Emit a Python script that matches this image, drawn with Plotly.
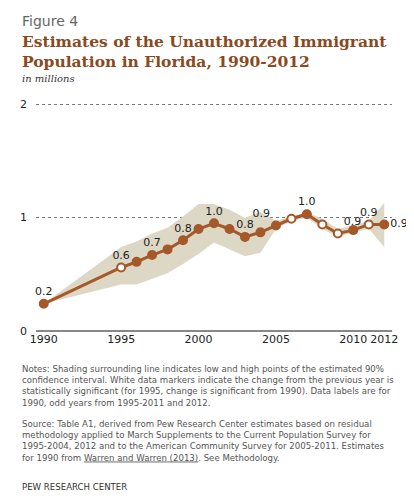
import plotly.graph_objects as go

# 1990 then 1995-2012 (no estimates for 1991-1994)
years = [1990] + list(range(1995, 2013))
estimate = [0.24, 0.56, 0.61, 0.67, 0.72, 0.80, 0.90, 0.95, 0.90, 0.83, 0.87,
            0.93, 0.99, 1.03, 0.94, 0.86, 0.89, 0.94, 0.94]
low = [0.24, 0.41, 0.41, 0.46, 0.51, 0.59, 0.68, 0.78, 0.72, 0.66, 0.69,
       0.90, 0.97, 1.00, 0.90, 0.83, 0.87, 0.90, 0.74]
high = [0.24, 0.74, 0.79, 0.86, 0.91, 1.01, 1.12, 1.12, 1.07, 1.00, 1.05,
        0.97, 1.01, 1.05, 0.99, 0.90, 0.93, 0.97, 1.13]
significant = [1995, 2006, 2008, 2009, 2011]
labels = {1990: "0.2", 1995: "0.6", 1997: "0.7", 1999: "0.8", 2001: "1.0", 2003: "0.8",
          2005: "0.9", 2007: "1.0", 2009: "0.9", 2011: "0.9", 2012: "0.9"}

brown = "#A5582A"
band = "#DDD8C6"

fig = go.Figure()
fig.add_trace(go.Scatter(x=years + years[::-1], y=high + low[::-1], fill="toself",
                         fillcolor=band, line=dict(width=0), mode="lines",
                         hoverinfo="skip", showlegend=False))

texts = [labels.get(y, "") for y in years]
positions = []
for y in years:
    if y == 2012:
        positions.append("middle right")
    elif y == 2005:
        positions.append("top left")
    elif y == 2009:
        positions.append("top right")
    else:
        positions.append("top center")
fig.add_trace(go.Scatter(
    x=years, y=estimate, mode="lines+markers+text",
    line=dict(color=brown, width=3),
    marker=dict(size=8, color=["white" if y in significant else brown for y in years],
                line=dict(color=brown, width=2)),
    text=texts, textposition=positions,
    textfont=dict(family="DejaVu Sans", size=11, color="#222"),
    showlegend=False, cliponaxis=False))

fig.update_xaxes(range=[1989.5, 2012.5], tickvals=[1990, 1995, 2000, 2005, 2010, 2012],
                 showgrid=False, zeroline=False, ticks="", showline=False,
                 tickfont=dict(family="DejaVu Sans", size=11, color="#222"))
fig.update_yaxes(range=[0, 2.02], tickvals=[0, 1, 2], showgrid=True, gridcolor="#777",
                 griddash="dot", gridwidth=1, zeroline=True, zerolinecolor="#888",
                 zerolinewidth=1.5, ticklabelstandoff=8,
                 tickfont=dict(family="DejaVu Sans", size=11, color="#222"))

notes = ("Notes: Shading surrounding line indicates low and high points of the estimated 90%<br>"
         "confidence interval. White data markers indicate the change from the previous year is<br>"
         "statistically significant (for 1995, change is significant from 1990). Data labels are for<br>"
         "1990, odd years from 1995-2011 and 2012.")
source = ("Source: Table A1, derived from Pew Research Center estimates based on residual<br>"
          "methodology applied to March Supplements to the Current Population Survey for<br>"
          "1995-2004, 2012 and to the American Community Survey for 2005-2011. Estimates<br>"
          "for 1990 from <u>Warren and Warren (2013)</u>. See Methodology.")

L, R, T, B = 20, 30, 94, 177
ann = [
    dict(x=4, y=497, text="Figure 4", font=dict(family="DejaVu Sans", size=14, color="#666")),
    dict(x=4, y=478, text="<b>Estimates of the Unauthorized Immigrant<br>Population in Florida, 1990-2012</b>",
         font=dict(family="DejaVu Serif", size=15.5, color="#8A4A1E")),
    dict(x=4, y=437, text="<i>in millions</i>", font=dict(family="DejaVu Serif", size=10, color="#333")),
    dict(x=4, y=146, text=notes, font=dict(family="DejaVu Sans", size=8.6, color="#555")),
    dict(x=4, y=91, text=source, font=dict(family="DejaVu Sans", size=8.6, color="#555")),
    dict(x=4, y=28, text="PEW RESEARCH CENTER", font=dict(family="DejaVu Sans", size=8.6, color="#333")),
]
for a in ann:
    # pixel positions (from bottom-left) converted to plot-area paper coordinates
    fig.add_annotation(xref="paper", yref="paper",
                       x=(a["x"] - L) / (414 - L - R), y=(a["y"] - B) / (500 - T - B),
                       xanchor="left", yanchor="top", showarrow=False, align="left",
                       text=a["text"], font=a["font"])

fig.update_layout(width=414, height=500, margin=dict(l=L, r=R, t=T, b=B),
                  plot_bgcolor="white", paper_bgcolor="white")

fig.write_html("out.html")
